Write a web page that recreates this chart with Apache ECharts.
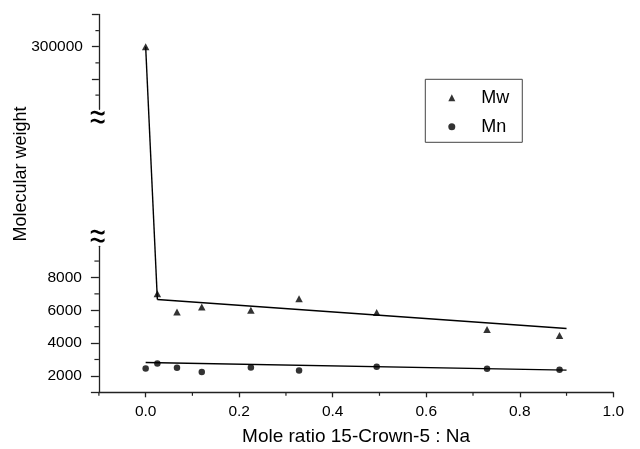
<!DOCTYPE html>
<html>
<head>
<meta charset="utf-8">
<script src="https://cdn.jsdelivr.net/npm/echarts@6.0.0/dist/echarts.min.js"></script>
<style>
  html, body { margin: 0; padding: 0; background: #fff; }
  #chart { width: 640px; height: 449px; }
</style>
</head>
<body>
<div id="chart"></div>
<script>
// Molecular weight of the polymer vs. mole ratio of 15-crown-5 to Na
const ratio = [0, 0.025, 0.067, 0.12, 0.225, 0.328, 0.494, 0.73, 0.885];
const mw    = [300000, 7000, 5900, 6200, 6000, 6700, 5870, 4830, 4460];
const mn    = [2450, 2760, 2490, 2240, 2510, 2330, 2550, 2430, 2370];

// Trend lines drawn through the data
const mwTrendRatio  = [0, 0.025, 0.90];
const mwTrendWeight = [300000, 6660, 4890];
const mnTrendRatio  = [0, 0.90];
const mnTrendWeight = [2820, 2350];

// Tick positions / labels
const xLabels        = [0, 0.2, 0.4, 0.6, 0.8, 1.0];
const xMinorTicks    = [-0.1, 0.1, 0.3, 0.5, 0.7, 0.9];
const lowLabels      = [2000, 4000, 6000, 8000];
const lowMajorTicks  = [1000, 2000, 4000, 6000, 8000];
const lowMinorTicks  = [3000, 5000, 7000, 9000];
const highLabels     = [300000];
const highMajorTicks = [250000, 300000, 350000];
const highMinorTicks = [225000, 275000, 325000];

// Values above this go on the upper (broken) segment of the y axis
const BREAK_VALUE = 10000;

const FONT = "'Liberation Sans', Arial, Helvetica, sans-serif";
const INK = '#000';
const AXIS = '#222';

// Layout of the two stacked plotting areas
const LEFT = 98.9, RIGHT = 26.7;
const X_RANGE = { min: -0.1, max: 1.0 };
const LOW  = { top: 246.3, height: 146, min: 1000, max: 9900 };
const HIGH = { top: 14.5, height: 94.8, min: 203000, max: 350000 };

const pairs = (xs, ys) => xs.map((x, i) => [x, ys[i]]);
const mwPoints = pairs(ratio, mw);
const mnPoints = pairs(ratio, mn);
const mwTrend = pairs(mwTrendRatio, mwTrendWeight);
const mnTrend = pairs(mnTrendRatio, mnTrendWeight);

const isHigh = p => p[1] >= BREAK_VALUE;
const isLow = p => p[1] < BREAK_VALUE;

const tickLabelStyle = { fontFamily: FONT, fontSize: 15.5, color: INK };
const axisLineStyle = { color: AXIS, width: 1.3 };

function xAxisOf(gridIndex, visible) {
  return {
    type: 'value', gridIndex, position: 'bottom', show: visible,
    min: X_RANGE.min, max: X_RANGE.max,
    splitLine: { show: false },
    axisLine: { show: true, onZero: false, lineStyle: axisLineStyle },
    axisTick: { show: true, length: 5, customValues: xLabels, lineStyle: axisLineStyle },
    axisLabel: Object.assign({ show: true, margin: 11, customValues: xLabels,
                align: 'center', verticalAlign: 'top',
                formatter: v => Number(v).toFixed(1) }, tickLabelStyle)
  };
}

function yAxisOf(gridIndex, range, majorTicks, labels, tickLen, margin) {
  return {
    type: 'value', gridIndex, position: 'left',
    min: range.min, max: range.max,
    splitLine: { show: false },
    axisLine: { show: true, onZero: false, lineStyle: axisLineStyle },
    axisTick: { show: true, length: tickLen, customValues: majorTicks, lineStyle: axisLineStyle },
    axisLabel: Object.assign({ show: true, margin, customValues: labels,
                align: 'right', verticalAlign: 'middle',
                formatter: v => String(v) }, tickLabelStyle)
  };
}

// Short minor ticks, placed through the axes' own scales
function minorTickSeries(gridIndex, data, dx, dy) {
  return {
    type: 'custom', xAxisIndex: gridIndex, yAxisIndex: gridIndex,
    silent: true, clip: false, z: 3,
    data,
    renderItem: (params, api) => {
      const p = api.coord([api.value(0), api.value(1)]);
      return {
        type: 'line',
        shape: { x1: p[0], y1: p[1], x2: p[0] + dx, y2: p[1] + dy },
        style: { stroke: AXIS, lineWidth: 1.2 }
      };
    }
  };
}

const chart = echarts.init(document.getElementById('chart'), null, { renderer: 'canvas' });

const xAxisMain = xAxisOf(0, true);
xAxisMain.name = 'Mole ratio 15-Crown-5 : Na';
xAxisMain.nameLocation = 'middle';
xAxisMain.nameGap = 35;
xAxisMain.nameTextStyle = { fontFamily: FONT, fontSize: 19, color: INK };

chart.setOption({
  animation: false,
  backgroundColor: '#fff',
  grid: [
    { left: LEFT, right: RIGHT, top: LOW.top, height: LOW.height, outerBoundsMode: 'none' },
    { left: LEFT, right: RIGHT, top: HIGH.top, height: HIGH.height, outerBoundsMode: 'none' }
  ],
  xAxis: [xAxisMain, xAxisOf(1, false)],
  yAxis: [
    yAxisOf(0, LOW, lowMajorTicks, lowLabels, 8, 17),
    yAxisOf(1, HIGH, highMajorTicks, highLabels, 7, 16)
  ],
  legend: {
    orient: 'vertical',
    left: 425.3, top: 79.3,
    padding: [9.4, 13, 6.6, 23],
    itemWidth: 7, itemHeight: 7, itemGap: 11,
    borderColor: '#444', borderWidth: 1,
    selectedMode: false,
    textStyle: { fontFamily: FONT, fontSize: 18, color: INK, padding: [0, 0, 0, 21] },
    data: [{ name: 'Mw', icon: 'triangle' }, { name: 'Mn', icon: 'circle' }]
  },
  graphic: [
    {
      type: 'text', x: 21, y: 174, rotation: Math.PI / 2,
      style: { text: 'Molecular weight', font: `18px ${FONT}`, fill: INK,
               align: 'center', verticalAlign: 'middle' }
    },
    {
      type: 'text', x: LEFT - 1.2, y: HIGH.top + HIGH.height + 9.5, scaleY: 1.4,
      style: { text: '\u2248', font: `28px ${FONT}`, fill: INK,
               align: 'center', verticalAlign: 'middle' }
    },
    {
      type: 'text', x: LEFT - 1.2, y: LOW.top - 8.5, scaleY: 1.4,
      style: { text: '\u2248', font: `28px ${FONT}`, fill: INK,
               align: 'center', verticalAlign: 'middle' }
    }
  ],
  series: [
    minorTickSeries(0, xMinorTicks.map(v => [v, LOW.min]), 0, 3.5),
    minorTickSeries(0, lowMinorTicks.map(v => [X_RANGE.min, v]), -4.5, 0),
    minorTickSeries(1, highMinorTicks.map(v => [X_RANGE.min, v]), -3.5, 0),
    {
      id: 'mwLow', name: 'Mw', type: 'scatter', xAxisIndex: 0, yAxisIndex: 0,
      symbol: 'triangle', symbolSize: [7.5, 7], itemStyle: { color: INK },
      data: mwPoints.filter(isLow), z: 5
    },
    {
      id: 'mwHigh', name: 'Mw', type: 'scatter', xAxisIndex: 1, yAxisIndex: 1,
      symbol: 'triangle', symbolSize: [7.5, 7], itemStyle: { color: INK },
      data: mwPoints.filter(isHigh), z: 5
    },
    {
      id: 'mn', name: 'Mn', type: 'scatter', xAxisIndex: 0, yAxisIndex: 0,
      symbol: 'circle', symbolSize: 6.5, itemStyle: { color: INK },
      data: mnPoints, z: 5
    },
    {
      id: 'mwTrendLow', name: 'Mw trend', type: 'line', xAxisIndex: 0, yAxisIndex: 0,
      symbol: 'none', silent: true, lineStyle: { color: INK, width: 1.4 },
      data: mwTrend.filter(isLow)
    },
    {
      id: 'mwTrendBridge', name: 'Mw trend', type: 'line', xAxisIndex: 1, yAxisIndex: 1,
      symbol: 'none', silent: true, clip: false, lineStyle: { color: INK, width: 1.4 },
      data: mwTrend.filter(isHigh)
    },
    {
      id: 'mnTrend', name: 'Mn trend', type: 'line', xAxisIndex: 0, yAxisIndex: 0,
      symbol: 'none', silent: true, lineStyle: { color: INK, width: 1.4 },
      data: mnTrend
    }
  ]
});

// Join the steep segment across the axis break: map the first lower-segment
// trend point into the upper segment's coordinates via pixel space.
const firstLow = mwTrend.find(isLow);
const pixel = chart.convertToPixel({ seriesId: 'mwTrendLow' }, firstLow);
const bridged = chart.convertFromPixel({ seriesId: 'mwTrendBridge' }, pixel);
chart.setOption({
  series: [{ id: 'mwTrendBridge', data: mwTrend.filter(isHigh).concat([bridged]) }]
});
</script>
</body>
</html>
